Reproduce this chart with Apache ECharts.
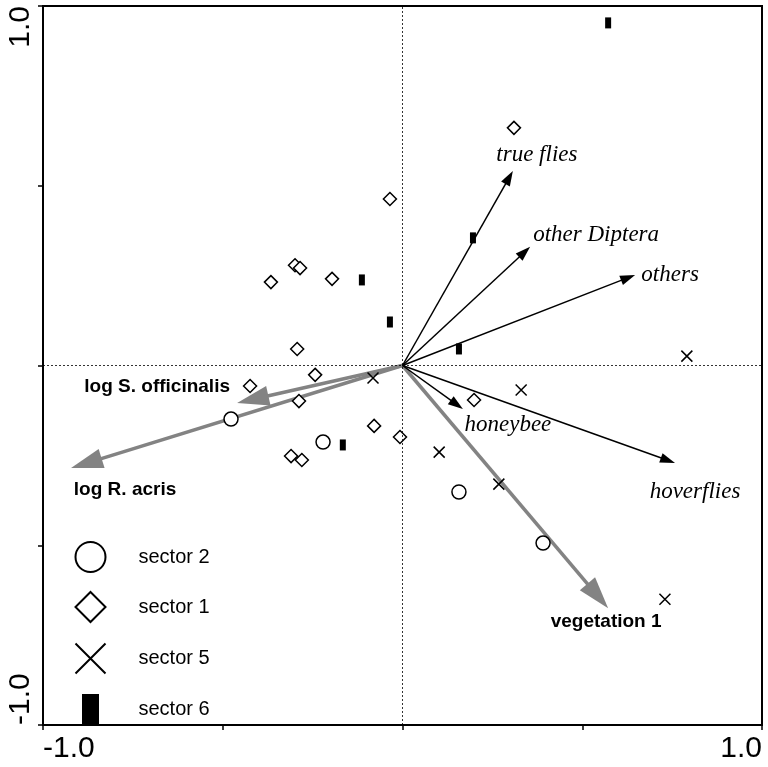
<!DOCTYPE html>
<html>
<head>
<meta charset="utf-8">
<title>Ordination biplot</title>
<style>
  html, body { margin: 0; padding: 0; background: #fff; }
  #main { width: 768px; height: 767px; }
</style>
<script src="https://cdn.jsdelivr.net/npm/echarts@6/dist/echarts.min.js"></script>
</head>
<body>
<div id="main"></div>
<script>
// sample scores per sector (axis 1, axis 2)
const sector1 = [[0.310, 0.661], [-0.035, 0.463], [-0.299, 0.279], [-0.285, 0.271], [-0.366, 0.232],
  [-0.196, 0.241], [-0.293, 0.046], [-0.243, -0.026], [-0.424, -0.057], [-0.288, -0.099],
  [0.199, -0.096], [-0.079, -0.168], [-0.007, -0.199], [-0.310, -0.252], [-0.280, -0.263]]
const sector2 = [[-0.477, -0.149], [-0.221, -0.213], [0.157, -0.352], [0.391, -0.494]]
const sector5 = [[-0.082, -0.035], [0.791, 0.026], [0.330, -0.068], [0.102, -0.241], [0.268, -0.330], [0.730, -0.650]]
const sector6 = [[0.572, 0.953], [0.196, 0.355], [-0.113, 0.238], [-0.035, 0.121], [0.157, 0.046], [-0.166, -0.221]]

// species arrows
const speciesNames = ['true flies', 'other Diptera', 'others', 'honeybee', 'hoverflies']
const speciesScores = [[0.307, 0.541], [0.355, 0.330], [0.647, 0.252], [0.168, -0.121], [0.758, -0.271]]

// environmental arrows
const envNames = ['log S. officinalis', 'log R. acris', 'vegetation 1']
const envScores = [[-0.460, -0.104], [-0.922, -0.285], [0.572, -0.675]]

const axisTicks = [-1, 1]

// label offsets from arrow tips, in pixels
const speciesLabelOffset = [[24, -16], [66, -12], [35, 0], [45, 16], [20, 29]]
const envLabelOffset = [[-80, -16], [54, 22], [-2, 14]]

const chart = echarts.init(document.getElementById('main'))

function arrowRenderer(names, offsets, st) {
  return function (params, api) {
    const o = api.coord([0, 0])
    const t = api.coord([api.value(0), api.value(1)])
    const dx = t[0] - o[0], dy = t[1] - o[1]
    const len = Math.sqrt(dx * dx + dy * dy)
    const ux = dx / len, uy = dy / len
    const bx = t[0] - ux * st.headLen, by = t[1] - uy * st.headLen
    const px = -uy * st.headHalf, py = ux * st.headHalf
    const off = offsets[params.dataIndex]
    return {
      type: 'group',
      children: [
        { type: 'line', shape: { x1: o[0], y1: o[1], x2: bx + ux * 2, y2: by + uy * 2 },
          style: { stroke: st.color, lineWidth: st.width } },
        { type: 'polygon', shape: { points: [[t[0], t[1]], [bx + px, by + py], [bx - px, by - py]] },
          style: { fill: st.color } },
        { type: 'text', x: t[0] + off[0], y: t[1] + off[1],
          style: { text: names[params.dataIndex], fill: '#000', font: st.font, align: 'center', verticalAlign: 'middle' } }
      ]
    }
  }
}

const hollow = { color: '#fff', borderColor: '#000', borderWidth: 1.5, opacity: 1 }

const option = {
  animation: false,
  backgroundColor: '#fff',
  grid: { left: 43, right: 6, top: 6, bottom: 42, show: true, borderColor: '#000', borderWidth: 2 },
  xAxis: {
    type: 'value', min: -1, max: 1, interval: 0.5,
    axisLine: { onZero: false, lineStyle: { color: '#000', width: 2 } },
    axisTick: { length: 5, lineStyle: { color: '#000', width: 1.5 } },
    splitLine: { show: false },
    axisLabel: {
      margin: 9, fontSize: 30, fontFamily: 'Liberation Sans', color: '#000',
      alignMinLabel: 'left', alignMaxLabel: 'right',
      formatter: v => axisTicks.includes(v) ? v.toFixed(1) : ''
    }
  },
  yAxis: {
    type: 'value', min: -1, max: 1, interval: 0.5,
    axisLine: { onZero: false, lineStyle: { color: '#000', width: 2 } },
    axisTick: { length: 5, lineStyle: { color: '#000', width: 1.5 } },
    splitLine: { show: false },
    axisLabel: {
      rotate: 90, margin: 7, fontSize: 30, fontFamily: 'Liberation Sans', color: '#000',
      alignMinLabel: 'left', alignMaxLabel: 'right',
      formatter: v => axisTicks.includes(v) ? v.toFixed(1) : ''
    }
  },
  legend: {
    orient: 'vertical', left: 73, top: 541, padding: 0,
    itemWidth: 30, itemHeight: 30, itemGap: 18,
    textStyle: { fontSize: 20, fontFamily: 'Liberation Sans', color: '#000', padding: [0, 0, 0, 28] },
    data: [
      { name: 'sector 2' },
      { name: 'sector 1' },
      { name: 'sector 5' },
      { name: 'sector 6', icon: 'path://M0,0H17V30H0Z' }
    ]
  },
  series: [
    {
      type: 'custom', name: 'environment', z: 2, silent: true,
      renderItem: arrowRenderer(envNames, envLabelOffset,
        { color: '#838383', width: 3.5, headLen: 32, headHalf: 10, font: 'bold 19px "Liberation Sans"' }),
      data: envScores,
      markLine: {
        silent: true, symbol: 'none', label: { show: false },
        lineStyle: { color: '#000', width: 0.8, type: [2, 2] },
        data: [{ xAxis: 0 }, { yAxis: 0 }]
      }
    },
    {
      type: 'custom', name: 'species', z: 2, silent: true,
      renderItem: arrowRenderer(speciesNames, speciesLabelOffset,
        { color: '#000', width: 1.5, headLen: 15, headHalf: 5, font: 'italic 23px "Liberation Serif"' }),
      data: speciesScores
    },
    { type: 'scatter', name: 'sector 2', z: 3, symbol: 'circle', symbolSize: 14, itemStyle: hollow, data: sector2 },
    { type: 'scatter', name: 'sector 1', z: 3, symbol: 'diamond', symbolSize: 13, itemStyle: hollow, data: sector1 },
    { type: 'scatter', name: 'sector 5', z: 3, symbol: 'path://M0,0L10,10M10,0L0,10', symbolSize: 11,
      itemStyle: { color: 'none', borderColor: '#000', borderWidth: 1.5, opacity: 1 }, data: sector5 },
    { type: 'scatter', name: 'sector 6', z: 3, symbol: 'rect', symbolSize: [6, 11],
      itemStyle: { color: '#000', opacity: 1 }, data: sector6 }
  ]
}

chart.setOption(option)
</script>
</body>
</html>
